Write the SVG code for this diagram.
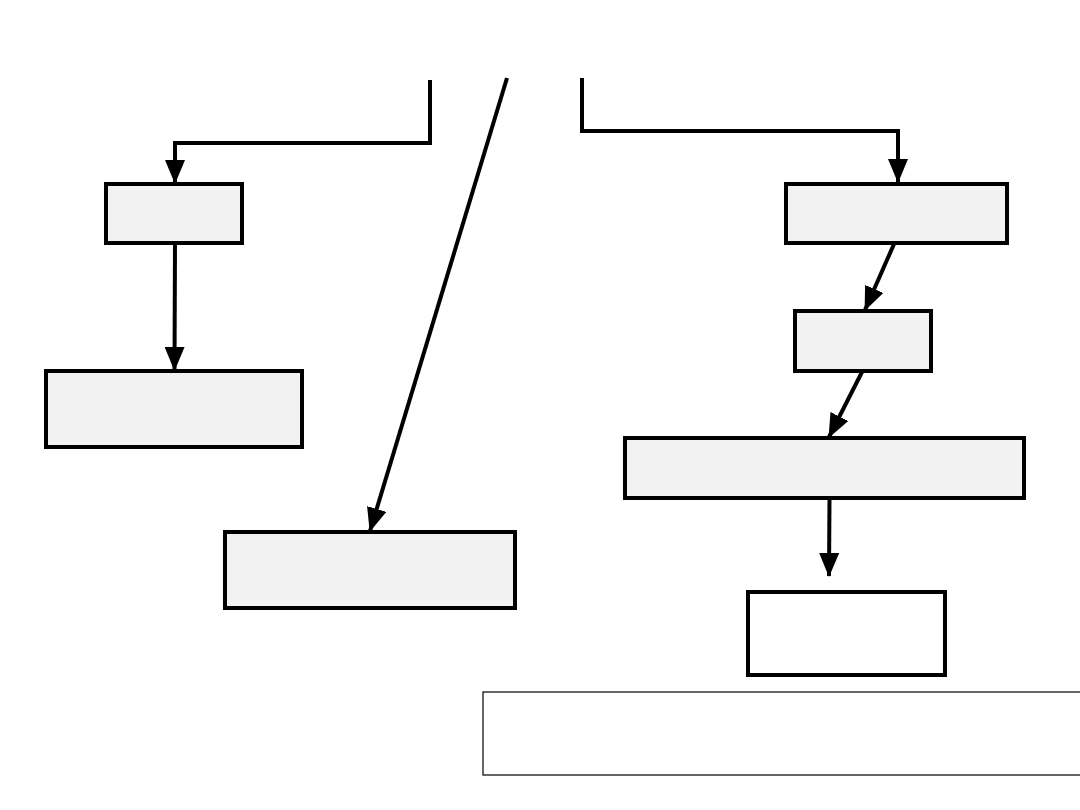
<svg xmlns="http://www.w3.org/2000/svg" width="1080" height="810" viewBox="0 0 1080 810">
  <style>
    .node { fill: #f2f2f2; stroke: #000; stroke-width: 4; }
    .plain { fill: #ffffff; stroke: #000; stroke-width: 4; }
    .note { fill: #ffffff; stroke: #000; stroke-width: 1.2; }
    .conn { fill: none; stroke: #000; stroke-width: 4; stroke-linejoin: miter; }
  </style>
  <defs>
    <marker id="arrow" markerUnits="userSpaceOnUse" markerWidth="24" markerHeight="20" viewBox="0 0 24 20" refX="23" refY="10" orient="auto">
      <path d="M0,0 L24,10 L0,20 z" fill="#000"/>
    </marker>
  </defs>
  <rect width="1080" height="810" fill="#ffffff"/>

  <g id="connectors">
    <path class="conn" d="M430,80 V143 H175 V183" marker-end="url(#arrow)"/>
    <path class="conn" d="M507,78 L370,531" marker-end="url(#arrow)"/>
    <path class="conn" d="M582,78 V131 H898 V182" marker-end="url(#arrow)"/>
    <path class="conn" d="M175,243 L174.5,370" marker-end="url(#arrow)"/>
    <path class="conn" d="M894,244 L865,310" marker-end="url(#arrow)"/>
    <path class="conn" d="M862,372 L829,437" marker-end="url(#arrow)"/>
    <path class="conn" d="M829.5,499 L829,576" marker-end="url(#arrow)"/>
  </g>

  <g id="node-a"><rect class="node" x="106" y="184" width="136" height="59"/></g>
  <g id="node-b"><rect class="node" x="46" y="371" width="256" height="76"/></g>
  <g id="node-c"><rect class="node" x="225" y="532" width="290" height="76"/></g>
  <g id="node-d"><rect class="node" x="786" y="184" width="221" height="59"/></g>
  <g id="node-e"><rect class="node" x="795" y="311" width="136" height="60"/></g>
  <g id="node-f"><rect class="node" x="625" y="438" width="399" height="60"/></g>
  <g id="node-g"><rect class="plain" x="748" y="592" width="197" height="83"/></g>
  <g id="node-h"><rect class="note" x="483" y="692" width="620" height="83"/></g>
</svg>
